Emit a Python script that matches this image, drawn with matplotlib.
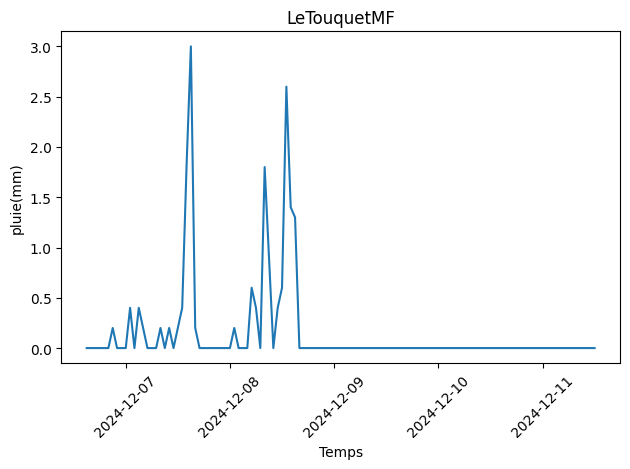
import matplotlib
matplotlib.use("Agg")
import matplotlib.pyplot as plt
import pandas as pd


STATION = "LeTouquetMF"

# hourly readings, 2024-12-06 15:00 -> 2024-12-11 12:00
start_time = "2024-12-06 15:00"

pluie = [
    # 12-06 15h -> 23h
    0.0, 0.0, 0.0, 0.0, 0.0, 0.0, 0.2, 0.0, 0.0,
    # 12-07
    0.0, 0.4, 0.0, 0.4, 0.2, 0.0, 0.0, 0.0, 0.2, 0.0, 0.2, 0.0,
    0.2, 0.4, 1.8, 3.0, 0.2, 0.0, 0.0, 0.0, 0.0, 0.0, 0.0, 0.0,
    # 12-08
    0.0, 0.2, 0.0, 0.0, 0.0, 0.6, 0.4, 0.0, 1.8, 0.9, 0.0, 0.4,
    0.6, 2.6, 1.4, 1.3, 0.0, 0.0, 0.0, 0.0, 0.0, 0.0, 0.0, 0.0,
    # 12-09
    0.0, 0.0, 0.0, 0.0, 0.0, 0.0, 0.0, 0.0, 0.0, 0.0, 0.0, 0.0,
    0.0, 0.0, 0.0, 0.0, 0.0, 0.0, 0.0, 0.0, 0.0, 0.0, 0.0, 0.0,
    # 12-10
    0.0, 0.0, 0.0, 0.0, 0.0, 0.0, 0.0, 0.0, 0.0, 0.0, 0.0, 0.0,
    0.0, 0.0, 0.0, 0.0, 0.0, 0.0, 0.0, 0.0, 0.0, 0.0, 0.0, 0.0,
    # 12-11 00h -> 12h
    0.0, 0.0, 0.0, 0.0, 0.0, 0.0, 0.0, 0.0, 0.0, 0.0, 0.0, 0.0,
    0.0,
]

temps = pd.date_range(start_time, periods=len(pluie), freq="h")

plt.figure(figsize=(6.4, 4.8))

plt.plot(temps, pluie)

plt.title(STATION)
plt.xlabel("Temps")
plt.ylabel("pluie(mm)")
plt.xticks(rotation=45)
plt.tight_layout()

plt.savefig("out.png", dpi=100, bbox_inches="tight")
plt.close()
